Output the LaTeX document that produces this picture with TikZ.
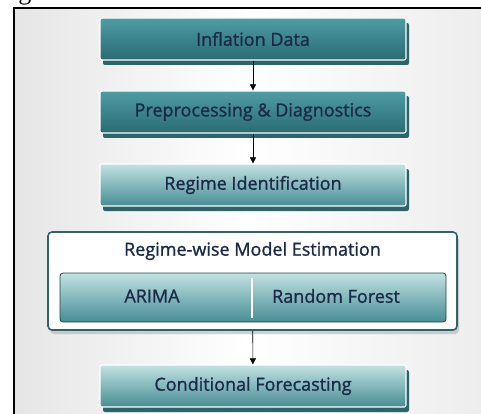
\documentclass[tikz,border=0pt]{standalone}
\usepackage{fontspec}
\setmainfont{Open Sans}
\newfontfamily\boxfont{Open Sans}[FakeBold=1.2]
\newfontfamily\capfont{Liberation Serif}
\usetikzlibrary{shadows,arrows.meta}
\definecolor{navy}{HTML}{1B2A48}
\definecolor{tealdark}{HTML}{2A6B73}
\definecolor{tealmid}{HTML}{4F9CA5}
\definecolor{teallight}{HTML}{C2E2E2}
\definecolor{tealshadow}{HTML}{2C6469}

\begin{document}
\begin{tikzpicture}[x=1pt,y=-1pt,
    label text/.style={text=navy,font=\boxfont\fontsize{18}{21}\selectfont},
    stage/.style={draw=white,line width=1.2pt,rounded corners=2pt,
      minimum width=306pt,minimum height=42pt,
      top color=tealmid,bottom color=tealdark,
      drop shadow={shadow xshift=3pt,shadow yshift=-5pt,fill=tealshadow,opacity=1},
      label text},
    stagelight/.style={stage,top color=teallight,bottom color=tealmid!90!black},
    flow/.style={-{Triangle[length=6pt,width=6pt]},semithick}]
    \useasboundingbox (0,0) rectangle (481,414);
    \clip (0,0) rectangle (481,414);
    %frame
    \shade[left color=gray!20,right color=gray!14,middle color=white] (14,8) rectangle (481,414);
    \draw[line width=1.4pt] (14,414) -- (14,8) -- (481,8);
    \node[anchor=base west,inner sep=0pt,font=\capfont\fontsize{26}{30}\selectfont] (caption) at (-2,0) {ing Framework};

    %stages
    \node[stage] (data) at (253,39) {Inflation Data};
    \node[stage] (prep) at (253,112) {Preprocessing \& Diagnostics};
    \node[stagelight] (regime) at (253,185) {Regime Identification};

    %model estimation
    \node[draw=tealshadow,line width=1.6pt,fill=white,rounded corners=4pt,
      minimum width=409pt,minimum height=98pt,
      drop shadow={shadow xshift=2pt,shadow yshift=-4pt,fill=gray!60,opacity=0.6}] (estim) at (252.5,281) {};
    \node[label text] (estim title) at (252.5,251) {Regime-wise Model Estimation};
    \node[draw=tealshadow!70!black,line width=0.8pt,rounded corners=3pt,
      minimum width=386pt,minimum height=49pt,
      top color=teallight,bottom color=tealmid!90!black] (models) at (253,297.5) {};
    \draw[white,line width=1.2pt] (252,278) -- (252,318);
    \node[label text] (arima) at (152,296) {ARIMA};
    \node[label text] (rf) at (336,296) {Random Forest};

    \node[stagelight] (forecast) at (253,386) {Conditional Forecasting};

    %arrows
    \draw[flow] (data) -- (prep);
    \draw[flow] (prep) -- (regime);
    \draw[flow] (estim) -- (forecast);
\end{tikzpicture}
\end{document}
